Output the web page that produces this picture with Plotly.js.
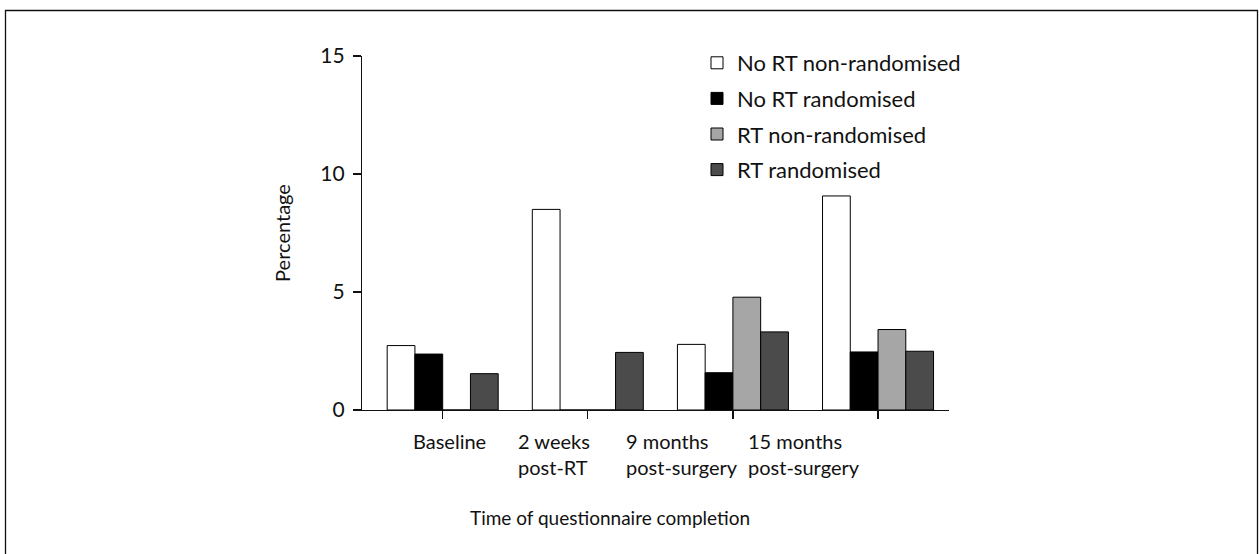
<!DOCTYPE html>
<html>
<head>
<meta charset="utf-8">
<script src="https://cdn.plot.ly/plotly-3.0.1.min.js"></script>
<style>
  html, body { margin: 0; padding: 0; background: #ffffff; }
  #chart { width: 1259px; height: 554px; }
</style>
</head>
<body>
<div id="chart"></div>
<script>
// ---- data ----
const categories = ["Baseline", "2 weeks<br>post-RT", "9 months<br>post-surgery", "15 months<br>post-surgery"];
const seriesNames = ["No RT non-randomised", "No RT randomised", "RT non-randomised", "RT randomised"];
const noRtNonRandomised = [2.73, 8.50, 2.78, 9.07];
const noRtRandomised    = [2.37, 0,    1.58, 2.46];
const rtNonRandomised   = [0,    0,    4.78, 3.41];
const rtRandomised      = [1.54, 2.44, 3.31, 2.49];
const yTicks = [0, 5, 10, 15];
const xTitle = "Time of questionnaire completion";
const yTitle = "Percentage";

// ---- style ----
const W = 1259, H = 554;
const M = { l: 362, r: 310, t: 56, b: 144 };
const PW = W - M.l - M.r, PH = H - M.t - M.b;
const px2x = p => (p - M.l) / PW;
const px2y = p => (H - M.b - p) / PH;
const FONT = "Lato, 'Open Sans', sans-serif";
const TXT = "#111111";
const colors = ["#ffffff", "#000000", "#a6a6a6", "#4b4b4b"];
const seriesValues = [noRtNonRandomised, noRtRandomised, rtNonRandomised, rtRandomised];
const idx = categories.map((_, i) => i);
// left edge of each category label (data units on the category axis)
const labelLeft = [-0.215, 0.505, 1.25, 2.09];

const traces = seriesNames.map((name, k) => ({
  type: "bar",
  name: name,
  x: idx,
  y: seriesValues[k],
  legendgroup: "g" + k,
  marker: { color: colors[k], line: { color: "#000000", width: 1 } },
  hoverinfo: "skip"
}));

const annotations = categories.map((c, i) => ({
  text: c, xref: "x", yref: "paper", x: labelLeft[i], y: px2y(427),
  xanchor: "left", yanchor: "top", align: "left", showarrow: false,
  font: { family: FONT, size: 20, color: TXT }
}));
annotations.push({
  text: xTitle, xref: "paper", yref: "paper", x: px2x(610), y: px2y(517),
  xanchor: "center", yanchor: "middle", showarrow: false,
  font: { family: FONT, size: 19, color: TXT }
});

const layout = {
  width: W, height: H,
  margin: M,
  paper_bgcolor: "#ffffff",
  plot_bgcolor: "#ffffff",
  font: { family: FONT, size: 20, color: TXT },
  barmode: "group",
  bargap: 0.235,
  bargroupgap: 0,
  showlegend: true,
  legend: {
    x: px2x(697), y: px2y(42), xanchor: "left", yanchor: "top",
    bgcolor: "rgba(0,0,0,0)", font: { family: FONT, size: 22, color: TXT },
    tracegroupgap: 4, traceorder: "grouped"
  },
  xaxis: {
    range: [-0.556, 3.489],
    tickmode: "array", tickvals: idx, showticklabels: false,
    ticks: "outside", ticklen: 8, tickwidth: 1.2, tickcolor: TXT,
    showline: true, linecolor: TXT, linewidth: 1.2,
    showgrid: false, zeroline: false, fixedrange: true
  },
  yaxis: {
    range: [0, 15],
    tickmode: "array", tickvals: yTicks,
    ticks: "outside", ticklen: 8, tickwidth: 1.2, tickcolor: TXT,
    ticklabelstandoff: 4,
    showline: true, linecolor: TXT, linewidth: 1.2,
    showgrid: false, zeroline: false, fixedrange: true,
    tickfont: { family: FONT, size: 21, color: TXT },
    title: { text: yTitle, standoff: 24, font: { family: FONT, size: 20, color: TXT } }
  },
  annotations: annotations,
  shapes: [{
    type: "path", xref: "paper", yref: "paper",
    path: "M " + px2x(5.5) + " " + px2y(570) + " L " + px2x(5.5) + " " + px2y(10.5) +
          " L " + px2x(1257.5) + " " + px2y(10.5) + " L " + px2x(1257.5) + " " + px2y(570),
    line: { color: TXT, width: 1.3 }
  }]
};

Plotly.newPlot("chart", traces, layout, { staticPlot: true, displayModeBar: false });
</script>
</body>
</html>
